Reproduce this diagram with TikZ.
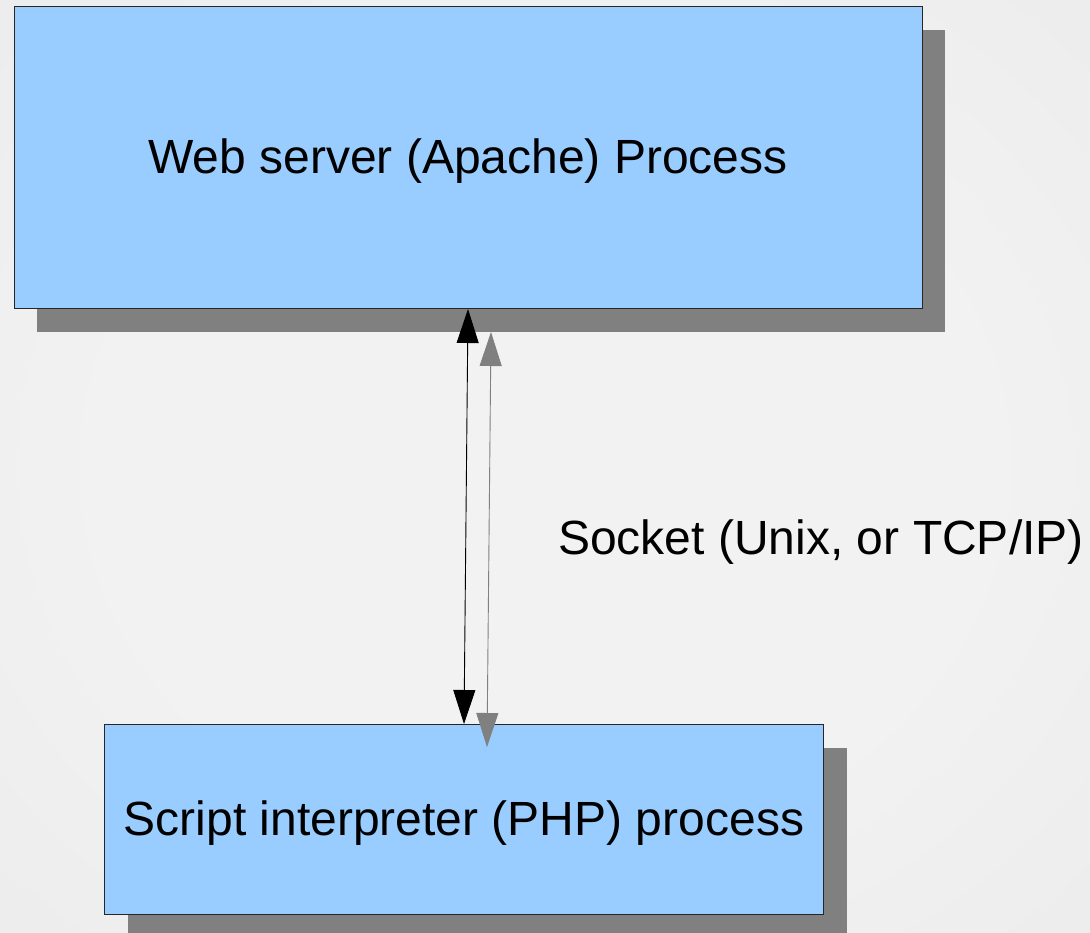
\documentclass[tikz,border=0pt]{standalone}
\usepackage{fontspec}
\setmainfont{Liberation Sans}
\usetikzlibrary{arrows.meta,shadows,calc}
\definecolor{boxblue}{HTML}{99CCFF}
\definecolor{shadowgray}{HTML}{808080}
\definecolor{bgin}{HTML}{F2F2F2}
\definecolor{bgout}{HTML}{E0E0E0}
\pgfdeclareradialshading{bgshade}{\pgfpoint{0bp}{0bp}}{color(0bp)=(bgin); color(20bp)=(bgin); color(71bp)=(bgout)}
\begin{document}
\begin{tikzpicture}[x=1pt,y=-1pt,
  box/.style={draw=black!85, line width=1pt, fill=boxblue, inner sep=0pt, anchor=north west,
    text height=32pt, text depth=0pt,
    drop shadow={shadow xshift=23pt, shadow yshift=-23pt, fill=shadowgray, draw=none, opacity=1}},
  lbl/.style={font=\fontsize{48}{57}\selectfont, text=black},
  conn/.style={line width=0.9pt, draw=black, {Triangle[width=22pt,length=34pt]}-{Triangle[width=22pt,length=34pt]}},
  connshadow/.style={line width=0.9pt, draw=shadowgray, {Triangle[width=22pt,length=34pt]}-{Triangle[width=22pt,length=34pt]}},
]
\useasboundingbox (0,0) rectangle (1090,932);
\shade[shading=bgshade] (0,0) rectangle (1090,932);
\node[box, lbl, minimum width=908pt, minimum height=302pt] (web) at (13.5,6) {Web server (Apache) Process};
\node[box, lbl, minimum width=719pt, minimum height=190pt] (script) at (104,724) {Script interpreter (PHP) process};
\draw[connshadow] ($(web.south)+(23,23)$) -- ($(script.north)+(23,23)$);
\draw[conn] (web.south) -- (script.north);
\node[lbl, anchor=base] (sock) at (821,554) {Socket (Unix, or TCP/IP)};
\end{tikzpicture}
\end{document}
